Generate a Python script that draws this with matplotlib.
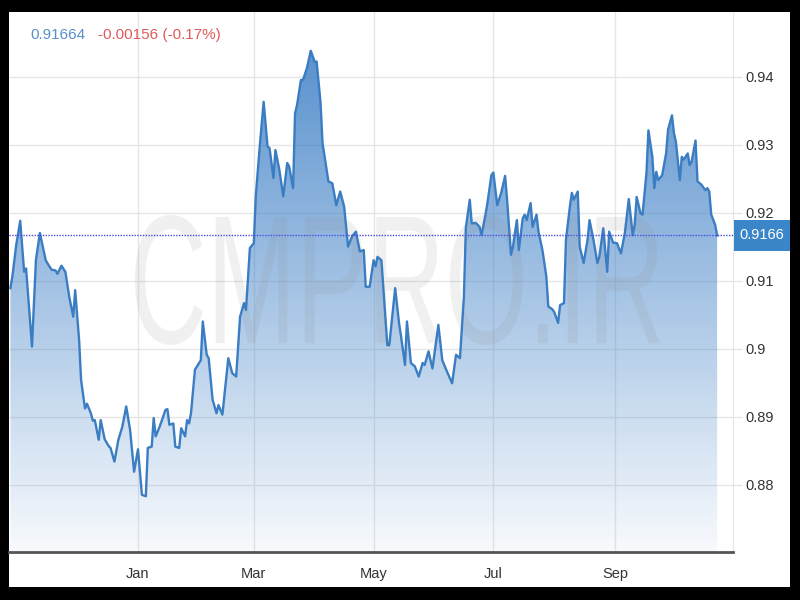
import matplotlib

matplotlib.use("Agg")
import matplotlib.dates as mdates
import matplotlib.pyplot as plt
import matplotlib.transforms as mtransforms
import numpy as np
import pandas as pd
from matplotlib import font_manager
from matplotlib.patches import PathPatch, Rectangle
from matplotlib.textpath import TextPath

# values (one point every one or two days)
DATES = [
    "2020-10-28", "2020-10-29", "2020-10-31", "2020-11-01", "2020-11-02", "2020-11-04",
    "2020-11-05", "2020-11-08", "2020-11-10", "2020-11-12", "2020-11-15", "2020-11-16",
    "2020-11-18", "2020-11-20", "2020-11-21", "2020-11-23", "2020-11-25", "2020-11-27",
    "2020-11-29", "2020-11-30", "2020-12-02", "2020-12-03", "2020-12-05", "2020-12-06",
    "2020-12-08", "2020-12-09", "2020-12-10", "2020-12-12", "2020-12-13", "2020-12-15",
    "2020-12-17", "2020-12-18", "2020-12-20", "2020-12-22", "2020-12-24", "2020-12-26",
    "2020-12-28", "2020-12-30", "2021-01-01", "2021-01-03", "2021-01-05", "2021-01-06",
    "2021-01-08", "2021-01-09", "2021-01-10", "2021-01-12", "2021-01-15", "2021-01-16",
    "2021-01-17", "2021-01-19", "2021-01-20", "2021-01-22", "2021-01-23", "2021-01-25",
    "2021-01-26", "2021-01-27", "2021-01-28", "2021-01-30", "2021-02-02", "2021-02-03",
    "2021-02-05", "2021-02-06", "2021-02-08", "2021-02-10", "2021-02-11", "2021-02-13",
    "2021-02-16", "2021-02-18", "2021-02-20", "2021-02-22", "2021-02-24", "2021-02-25",
    "2021-02-27", "2021-03-01", "2021-03-02", "2021-03-04", "2021-03-06", "2021-03-08",
    "2021-03-09", "2021-03-11", "2021-03-12", "2021-03-14", "2021-03-16", "2021-03-18",
    "2021-03-19", "2021-03-21", "2021-03-22", "2021-03-23", "2021-03-25", "2021-03-26",
    "2021-03-28", "2021-03-30", "2021-04-01", "2021-04-02", "2021-04-04", "2021-04-05",
    "2021-04-08", "2021-04-10", "2021-04-12", "2021-04-14", "2021-04-16", "2021-04-18",
    "2021-04-20", "2021-04-22", "2021-04-24", "2021-04-26", "2021-04-27", "2021-04-29",
    "2021-05-01", "2021-05-02", "2021-05-03", "2021-05-05", "2021-05-08", "2021-05-09",
    "2021-05-12", "2021-05-14", "2021-05-15", "2021-05-17", "2021-05-18", "2021-05-20",
    "2021-05-22", "2021-05-24", "2021-05-26", "2021-05-27", "2021-05-29", "2021-05-30",
    "2021-05-31", "2021-06-03", "2021-06-05", "2021-06-07", "2021-06-10", "2021-06-12",
    "2021-06-14", "2021-06-16", "2021-06-17", "2021-06-19", "2021-06-20", "2021-06-22",
    "2021-06-24", "2021-06-25", "2021-06-27", "2021-06-28", "2021-06-30", "2021-07-01",
    "2021-07-03", "2021-07-05", "2021-07-07", "2021-07-08", "2021-07-10", "2021-07-11",
    "2021-07-13", "2021-07-14", "2021-07-16", "2021-07-17", "2021-07-18", "2021-07-20",
    "2021-07-21", "2021-07-23", "2021-07-24", "2021-07-26", "2021-07-28", "2021-07-29",
    "2021-07-31", "2021-08-01", "2021-08-03", "2021-08-04", "2021-08-06", "2021-08-07",
    "2021-08-09", "2021-08-10", "2021-08-11", "2021-08-13", "2021-08-14", "2021-08-16",
    "2021-08-18", "2021-08-19", "2021-08-21", "2021-08-23", "2021-08-24", "2021-08-26",
    "2021-08-28", "2021-08-29", "2021-08-31", "2021-09-02", "2021-09-04", "2021-09-06",
    "2021-09-08", "2021-09-10", "2021-09-11", "2021-09-12", "2021-09-14", "2021-09-15",
    "2021-09-17", "2021-09-18", "2021-09-20", "2021-09-21", "2021-09-22", "2021-09-23",
    "2021-09-25", "2021-09-27", "2021-09-28", "2021-09-30", "2021-10-01", "2021-10-02",
    "2021-10-04", "2021-10-05", "2021-10-06", "2021-10-08", "2021-10-09", "2021-10-10",
    "2021-10-12", "2021-10-13", "2021-10-15", "2021-10-17", "2021-10-18", "2021-10-19",
    "2021-10-20", "2021-10-22", "2021-10-23",
]
RATES = [
    0.9089, 0.9106, 0.9153, 0.9170, 0.9188, 0.9113,
    0.9118, 0.9003, 0.9130, 0.9170, 0.9130, 0.9125,
    0.9116, 0.9115, 0.9110, 0.9122, 0.9113, 0.9076,
    0.9047, 0.9086, 0.9013, 0.8954, 0.8912, 0.8919,
    0.8905, 0.8894, 0.8895, 0.8866, 0.8895, 0.8867,
    0.8857, 0.8854, 0.8834, 0.8866, 0.8885, 0.8915,
    0.8880, 0.8819, 0.8852, 0.8785, 0.8783, 0.8854,
    0.8856, 0.8898, 0.8871, 0.8885, 0.8910, 0.8911,
    0.8888, 0.8890, 0.8856, 0.8854, 0.8883, 0.8871,
    0.8895, 0.8890, 0.8905, 0.8969, 0.8983, 0.9040,
    0.8991, 0.8986, 0.8925, 0.8905, 0.8917, 0.8903,
    0.8986, 0.8964, 0.8959, 0.9047, 0.9067, 0.9057,
    0.9148, 0.9155, 0.9224, 0.9297, 0.9363, 0.9297,
    0.9295, 0.9251, 0.9292, 0.9263, 0.9224, 0.9273,
    0.9268, 0.9236, 0.9346, 0.9358, 0.9395, 0.9395,
    0.9412, 0.9438, 0.9422, 0.9422, 0.9361, 0.9302,
    0.9246, 0.9243, 0.9211, 0.9231, 0.9209, 0.9150,
    0.9165, 0.9172, 0.9143, 0.9145, 0.9091, 0.9091,
    0.9130, 0.9121, 0.9135, 0.9130, 0.9005, 0.9005,
    0.9089, 0.9037, 0.9018, 0.8976, 0.9040, 0.8979,
    0.8974, 0.8959, 0.8979, 0.8976, 0.8996, 0.8983,
    0.8971, 0.9035, 0.8983, 0.8969, 0.8949, 0.8991,
    0.8986, 0.9076, 0.9178, 0.9219, 0.9184, 0.9185,
    0.9179, 0.9167, 0.9197, 0.9214, 0.9255, 0.9259,
    0.9211, 0.9229, 0.9254, 0.9219, 0.9138, 0.9150,
    0.9189, 0.9145, 0.9192, 0.9197, 0.9189, 0.9214,
    0.9179, 0.9197, 0.9172, 0.9145, 0.9106, 0.9062,
    0.9058, 0.9054, 0.9038, 0.9064, 0.9067, 0.9160,
    0.9209, 0.9229, 0.9219, 0.9231, 0.9150, 0.9126,
    0.9160, 0.9189, 0.9160, 0.9126, 0.9135, 0.9177,
    0.9113, 0.9172, 0.9156, 0.9155, 0.9140, 0.9170,
    0.9220, 0.9167, 0.9182, 0.9223, 0.9199, 0.9197,
    0.9258, 0.9321, 0.9282, 0.9236, 0.9260, 0.9248,
    0.9255, 0.9287, 0.9322, 0.9343, 0.9317, 0.9304,
    0.9248, 0.9282, 0.9278, 0.9287, 0.9270, 0.9275,
    0.9306, 0.9246, 0.9241, 0.9233, 0.9236, 0.9231,
    0.9197, 0.9182, 0.91664,
]

LAST_LABEL = "0.91664"
CHANGE_LABEL = "-0.00156 (-0.17%)"
BOX_LABEL = "0.9166"
WATERMARK = "CMPRO.IR"

Y_TICKS = [0.88, 0.89, 0.90, 0.91, 0.92, 0.93, 0.94]
Y_TICK_LABELS = ["0.88", "0.89", "0.9", "0.91", "0.92", "0.93", "0.94"]
MONTH_TICKS = ["2021-01-01", "2021-03-01", "2021-05-01", "2021-07-01", "2021-09-01"]
MONTH_LABELS = ["Jan", "Mar", "May", "Jul", "Sep"]
X_START = "2020-10-27 07:00"
X_END = "2021-10-31 02:00"
Y_MIN, Y_MAX = 0.8701, 0.9495

LINE_COLOR = "#3b7dc2"
FILL_RGB = (0.24, 0.50, 0.78)
GRID_COLOR = "#e6e6e6"
TEXT_COLOR = "#333333"


def pick_font() -> str:
    names = {f.name for f in font_manager.fontManager.ttflist}
    for name in ("Liberation Sans Narrow", "Liberation Sans", "DejaVu Sans"):
        if name in names:
            return name
    return "DejaVu Sans"


def main() -> None:
    font = pick_font()
    plt.rcParams["font.family"] = font

    dates = pd.to_datetime(DATES)
    rates = np.array(RATES)
    last = rates[-1]
    x0, x1 = pd.Timestamp(X_START), pd.Timestamp(X_END)

    fig = plt.figure(figsize=(8, 6), dpi=100, facecolor="black")
    fig.add_artist(
        Rectangle((9 / 800, 13 / 600), 781 / 800, 575 / 600, transform=fig.transFigure,
                  facecolor="white", edgecolor="none", zorder=-5)
    )
    ax = fig.add_axes([9 / 800, 48 / 600, 724 / 800, 540 / 600])
    ax.set_facecolor("white")

    # gradient area under the line
    alpha = np.linspace(0.92, 0.04, 256)
    rgba = np.zeros((256, 1, 4))
    rgba[..., 0], rgba[..., 1], rgba[..., 2] = FILL_RGB
    rgba[..., 3] = alpha[:, None]
    im = ax.imshow(
        rgba, aspect="auto", origin="upper", zorder=1,
        extent=[mdates.date2num(x0), mdates.date2num(x1), Y_MIN, Y_MAX],
    )
    area = ax.fill_between(dates, rates, Y_MIN, facecolor="none", edgecolor="none")
    im.set_clip_path(area.get_paths()[0], transform=ax.transData)

    # watermark
    tp = TextPath((0, 0), WATERMARK, size=1, prop=font_manager.FontProperties(family="Liberation Sans"))
    ext = tp.get_extents()
    box = (135 / 800, 255 / 600, 525 / 800, 130 / 600)
    wm_trans = (
        mtransforms.Affine2D()
        .translate(-ext.x0, -ext.y0)
        .scale(box[2] / ext.width, box[3] / ext.height)
        .translate(box[0], box[1])
        + fig.transFigure
    )
    ax.add_artist(PathPatch(tp, transform=wm_trans, facecolor="#8c8c8c", edgecolor="none",
                            alpha=0.13, zorder=2, clip_on=False))

    ax.plot(dates, rates, color=LINE_COLOR, lw=1.7, zorder=3)
    ax.axhline(last, color="#4a4ae0", lw=1, ls=(0, (1, 1)), zorder=4)

    # current value box on the right
    btrans = mtransforms.blended_transform_factory(fig.transFigure, ax.transData)
    ax.add_artist(Rectangle((734 / 800, last - 0.00225), 56 / 800, 0.0045, transform=btrans,
                            facecolor="#3a86c8", edgecolor="none", clip_on=False, zorder=5))
    ax.text(762 / 800, last, BOX_LABEL, transform=btrans, color="white", ha="center",
            va="center", fontsize=10.5, clip_on=False, zorder=6)

    fig.text(30 / 800, 1 - 35 / 600, LAST_LABEL, color="#5b8fcb", va="center", fontsize=11)
    fig.text(98 / 800, 1 - 35 / 600, CHANGE_LABEL, color="#e05a5a", va="center", fontsize=11)

    ax.set_xlim(x0, x1)
    ax.set_ylim(Y_MIN, Y_MAX)
    ax.yaxis.tick_right()
    ax.set_yticks(Y_TICKS, Y_TICK_LABELS)
    ax.set_xticks(pd.to_datetime(MONTH_TICKS), MONTH_LABELS)
    ax.tick_params(axis="y", length=6.5, width=1, color=GRID_COLOR, pad=2.5,
                   labelsize=10.5, labelcolor=TEXT_COLOR)
    ax.tick_params(axis="x", length=0, pad=11, labelsize=10.5, labelcolor=TEXT_COLOR)
    ax.grid(True, color=GRID_COLOR, lw=1)
    ax.set_axisbelow(True)
    ax.spines["top"].set_visible(False)
    ax.spines["left"].set_visible(False)
    ax.spines["right"].set_color(GRID_COLOR)
    ax.spines["bottom"].set_color("#555555")
    ax.spines["bottom"].set_linewidth(2)

    fig.savefig("out.png", dpi=100, facecolor="black")
    plt.close(fig)


if __name__ == "__main__":
    main()
